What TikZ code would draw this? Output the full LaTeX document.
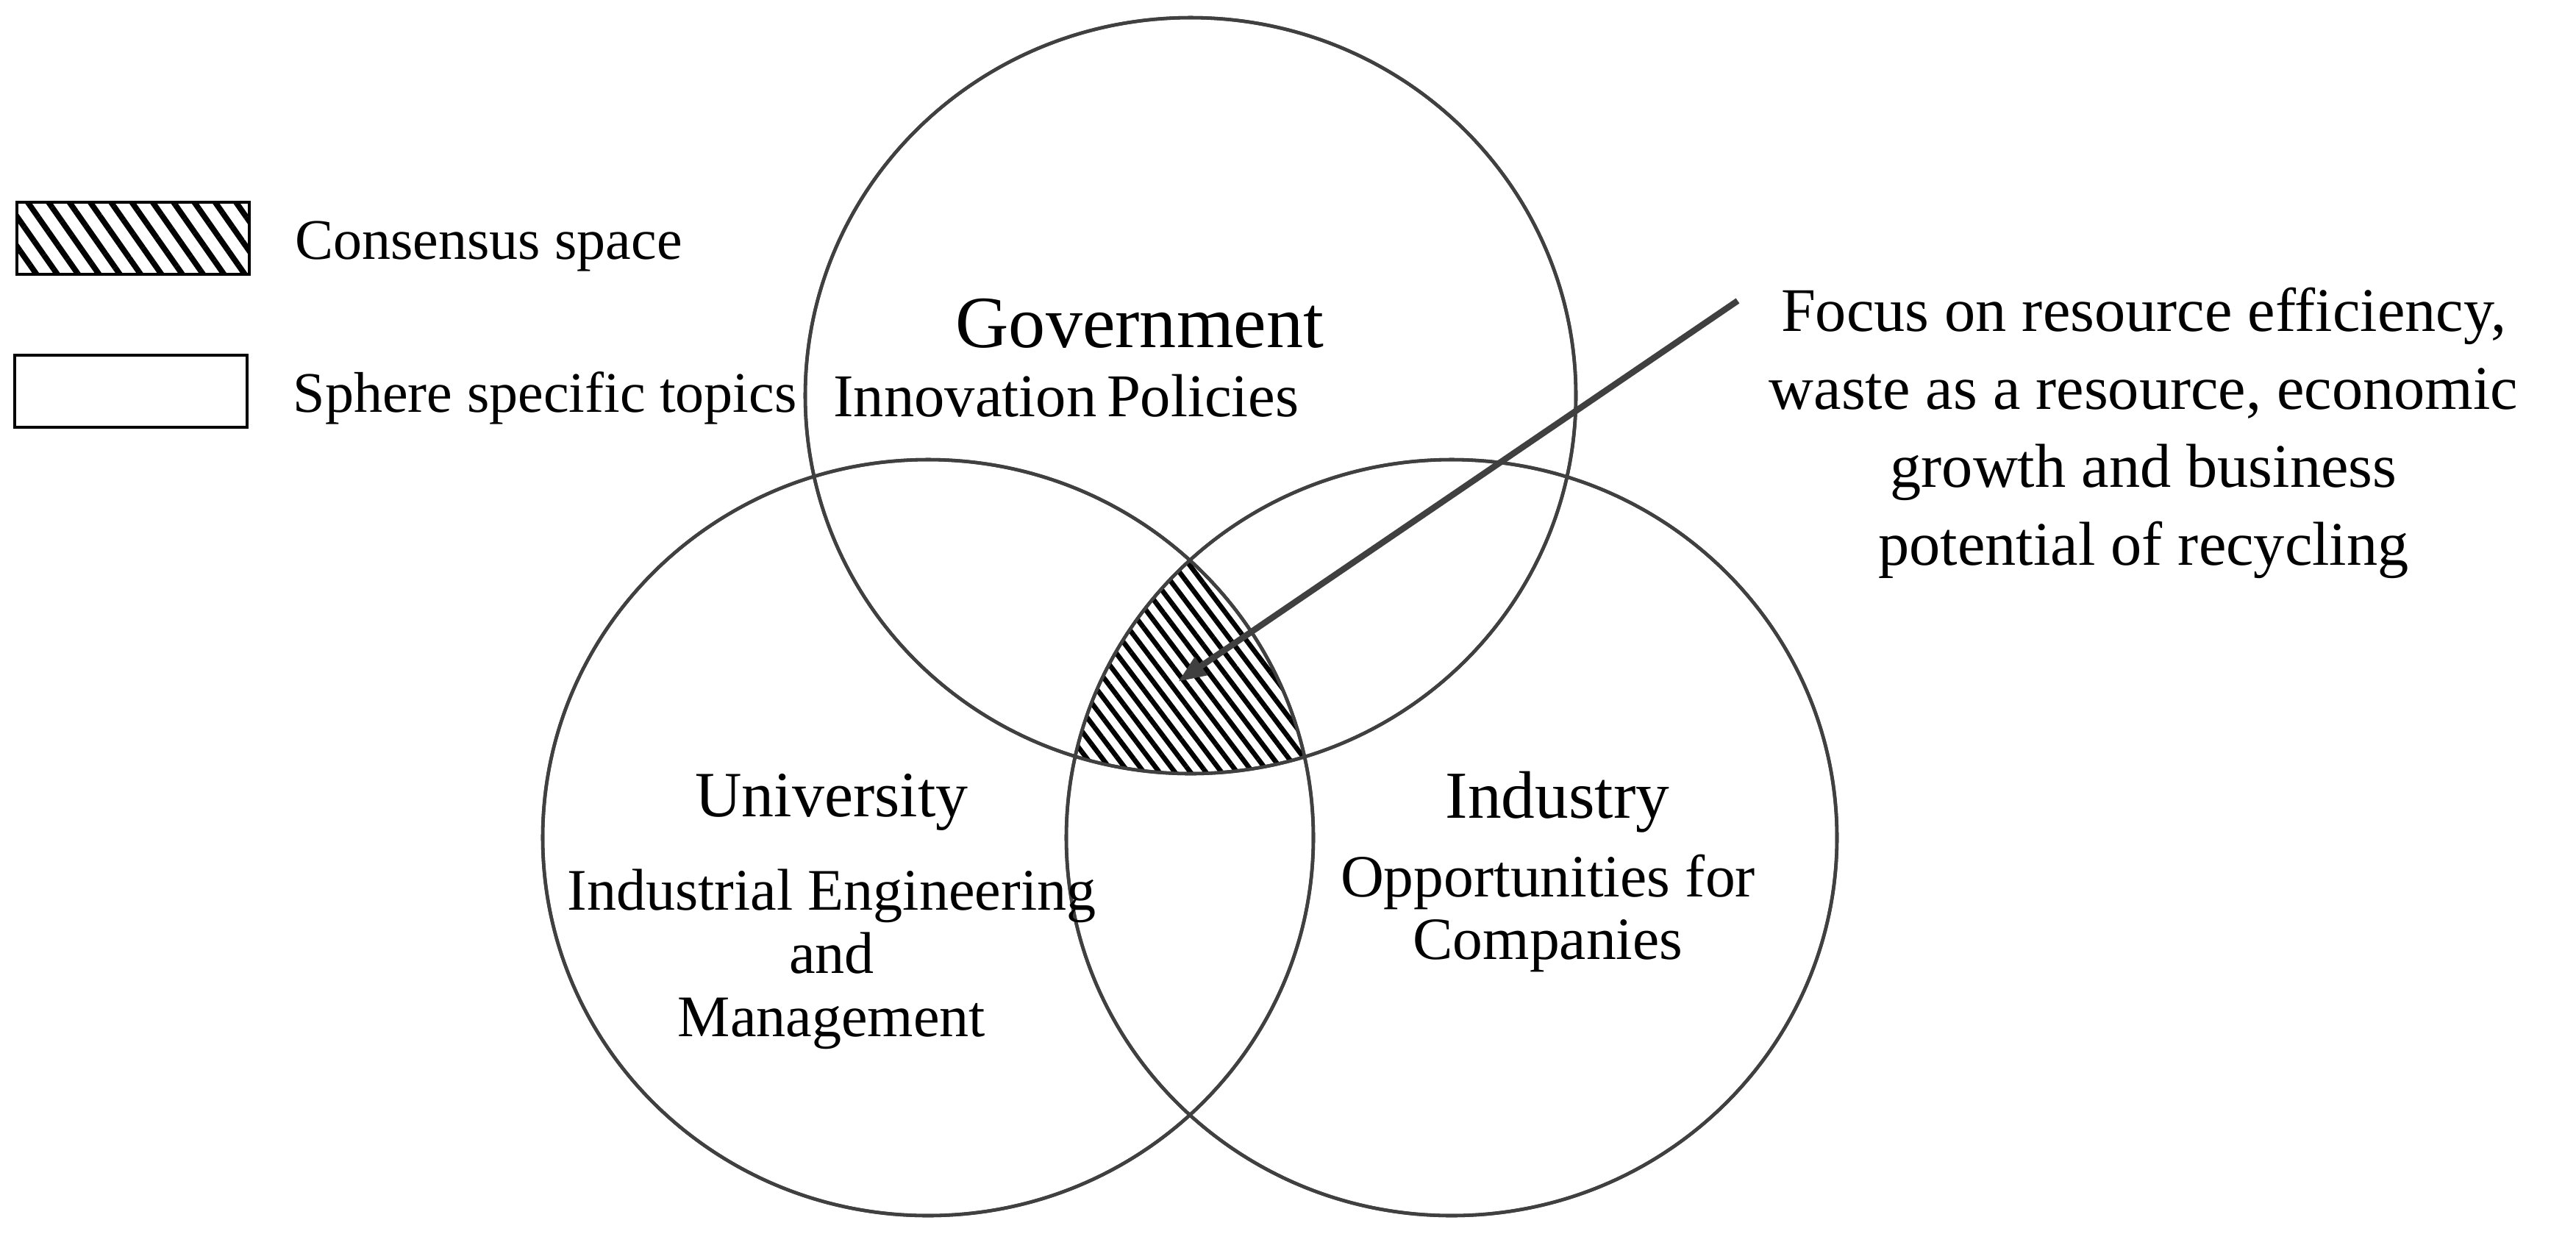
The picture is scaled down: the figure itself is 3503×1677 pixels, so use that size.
\documentclass[tikz,border=0pt]{standalone}
\usepackage{fontspec}
\setmainfont{Liberation Serif}
\usetikzlibrary{positioning, arrows.meta, patterns.meta, shapes.geometric}

\definecolor{linegray}{HTML}{404040}

\tikzset{
  sphere/.style={ellipse, draw=linegray, line width=1.3pt, minimum width=104.8mm, minimum height=102.8mm, inner sep=0pt},
  title/.style={font=\fontsize{26}{30}\selectfont},
  topic/.style={font=\fontsize{23}{26}\selectfont, align=center},
  legendbox/.style={draw=black, line width=1.4pt, minimum width=31.6mm, minimum height=9.8mm, inner sep=0pt},
  legendtext/.style={font=\fontsize{22.2}{26}\selectfont},
  boxhatch/.style={pattern={Lines[angle=-55, distance=6.6pt, line width=2.2pt]}, pattern color=black},
  hatch/.style={pattern={Lines[angle=-53, distance=4.8pt, line width=1.9pt]}, pattern color=black},
}

\begin{document}
\begin{tikzpicture}[x=0.1mm, y=-0.1mm, on grid]
  \useasboundingbox (0,0) rectangle (3503,1677);

  % legend
  \node[legendbox, boxhatch] (cbox) at (181,324) {};
  \node[legendbox] (sbox) at (178,532) {};
  \node[legendtext, right=4.6mm of cbox.east, anchor=west, yshift=-1.1mm] (ctext) {Consensus space};
  \node[legendtext, right=4.8mm of sbox.east, anchor=west, yshift=-0.9mm] (stext) {Sphere specific topics};

  % spheres
  \node[sphere] (gov) at (1619,538) {};
  \node[sphere] (uni) [below left=60.1mm and 35.7mm of gov] {};
  \node[sphere] (ind) [right=71.2mm of uni] {};

  % consensus space
  \begin{scope}
    \clip (gov.center) ellipse [x radius=52.4mm, y radius=51.4mm];
    \clip (uni.center) ellipse [x radius=52.4mm, y radius=51.4mm];
    \fill[hatch] (ind.center) ellipse [x radius=52.4mm, y radius=51.4mm];
  \end{scope}
  \draw[linegray, line width=1.3pt] (gov.center) ellipse [x radius=52.4mm, y radius=51.4mm]
    (uni.center) ellipse [x radius=52.4mm, y radius=51.4mm]
    (ind.center) ellipse [x radius=52.4mm, y radius=51.4mm];

  % sphere texts
  \node[title, font=\fontsize{28.5}{32}\selectfont] (govname) [above left=9.8mm and 6.9mm of gov] {Government};
  \node[topic, font=\fontsize{23.5}{26}\selectfont] (govtopic) [left=16.9mm of gov] {Innovation\,Policies};
  \node[title, font=\fontsize{25}{30}\selectfont] (uniname) [above left=4.8mm and 13.1mm of uni] {University};
  \node[topic, font=\fontsize{22.8}{8.6mm}\selectfont] (unitopic) [below left=16.5mm and 13.1mm of uni] {Industrial Engineering\\and\\Management};
  \node[title] (indname) [above right=4.8mm and 14.4mm of ind] {Industry};
  \node[topic, font=\fontsize{23.2}{8.5mm}\selectfont] (indtopic) [below right=10.3mm and 13.1mm of ind] {Opportunities for\\Companies};

  % focus
  \node[topic, font=\fontsize{24}{10.6mm}\selectfont] (focus) at (2915,589) {Focus on resource efficiency,\\waste as a resource, economic\\growth and business\\potential of recycling};
  \coordinate (arrstart) at (2363,409);
  \coordinate (arrtip) at (1602,927);
  \draw[linegray, line width=2.4pt, -{Triangle[length=3.8mm, width=2.8mm]}] (arrstart) -- (arrtip);
\end{tikzpicture}
\end{document}
